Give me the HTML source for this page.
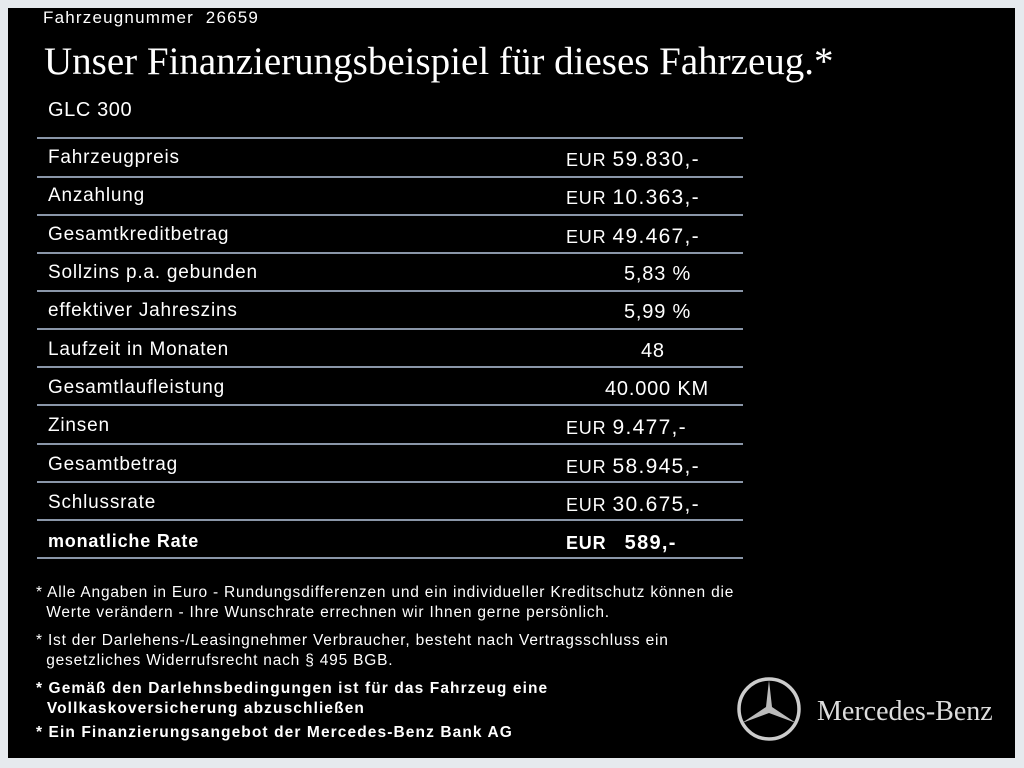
<!DOCTYPE html>
<html><head><meta charset="utf-8"><style>
body{margin:0;width:1024px;height:768px;background:#e6eaee;position:relative;overflow:hidden;font-family:"Liberation Sans",sans-serif;color:#fff}
#box{position:absolute;left:8px;top:8px;width:1007px;height:750px;background:#000}
.t{position:absolute;white-space:nowrap}
.l{position:absolute;left:37px;width:706px;height:2px;background:#8a96a8}
.r{font-size:19px;letter-spacing:0.8px}
.n{letter-spacing:1.3px}
.f{font-size:15.5px;line-height:20px;letter-spacing:0.8px}
.b{font-weight:bold;letter-spacing:1.1px}
</style></head><body>
<div id="box"></div>
<div class="t" style="left:43px;top:8px;font-size:17px;letter-spacing:1.2px">Fahrzeugnummer&nbsp; 26659</div>
<div class="t" style="left:44px;top:39px;font-family:'Liberation Serif',serif;font-size:39px">Unser Finanzierungsbeispiel für dieses Fahrzeug.*</div>
<div class="t" style="left:48px;top:99px;font-size:20px;letter-spacing:0.6px">GLC 300</div>

<div class="l" style="top:137px"></div>
<div class="l" style="top:176px"></div>
<div class="l" style="top:214px"></div>
<div class="l" style="top:252px"></div>
<div class="l" style="top:290px"></div>
<div class="l" style="top:328px"></div>
<div class="l" style="top:366px"></div>
<div class="l" style="top:404px"></div>
<div class="l" style="top:443px"></div>
<div class="l" style="top:481px"></div>
<div class="l" style="top:519px"></div>
<div class="l" style="top:557px"></div>

<div class="t r" style="left:48px;top:147px">Fahrzeugpreis</div>
<div class="t r" style="left:48px;top:185px">Anzahlung</div>
<div class="t r" style="left:48px;top:224px">Gesamtkreditbetrag</div>
<div class="t r" style="left:48px;top:262px">Sollzins p.a. gebunden</div>
<div class="t r" style="left:48px;top:300px">effektiver Jahreszins</div>
<div class="t r" style="left:48px;top:339px">Laufzeit in Monaten</div>
<div class="t r" style="left:48px;top:377px">Gesamtlaufleistung</div>
<div class="t r" style="left:48px;top:415px">Zinsen</div>
<div class="t r" style="left:48px;top:454px">Gesamtbetrag</div>
<div class="t r" style="left:48px;top:492px">Schlussrate</div>
<div class="t r" style="left:48px;top:531px;font-weight:bold;font-size:18px">monatliche Rate</div>

<div class="t r" style="left:566px;top:148px"><span style="font-size:18px">EUR</span>&nbsp;<span class="n" style="font-size:21px">59.830,-</span></div>
<div class="t r" style="left:566px;top:186px"><span style="font-size:18px">EUR</span>&nbsp;<span class="n" style="font-size:21px">10.363,-</span></div>
<div class="t r" style="left:566px;top:225px"><span style="font-size:18px">EUR</span>&nbsp;<span class="n" style="font-size:21px">49.467,-</span></div>
<div class="t r" style="left:624px;top:263px;font-size:20px">5,83 %</div>
<div class="t r" style="left:624px;top:301px;font-size:20px">5,99 %</div>
<div class="t r" style="left:641px;top:340px;font-size:20px">48</div>
<div class="t r" style="left:605px;top:378px;font-size:20px">40.000 KM</div>
<div class="t r" style="left:566px;top:416px"><span style="font-size:18px">EUR</span>&nbsp;<span class="n" style="font-size:21px">9.477,-</span></div>
<div class="t r" style="left:566px;top:455px"><span style="font-size:18px">EUR</span>&nbsp;<span class="n" style="font-size:21px">58.945,-</span></div>
<div class="t r" style="left:566px;top:493px"><span style="font-size:18px">EUR</span>&nbsp;<span class="n" style="font-size:21px">30.675,-</span></div>
<div class="t r" style="left:566px;top:532px;font-weight:bold"><span style="font-size:18px">EUR</span>&nbsp;&nbsp;&nbsp;<span class="n" style="font-size:20px">589,-</span></div>

<div class="t f" style="left:36px;top:583px">* Alle Angaben in Euro - Rundungsdifferenzen und ein individueller Kreditschutz können die<br>&nbsp;&nbsp;Werte verändern - Ihre Wunschrate errechnen wir Ihnen gerne persönlich.</div>
<div class="t f" style="left:36px;top:631px">* Ist der Darlehens-/Leasingnehmer Verbraucher, besteht nach Vertragsschluss ein<br>&nbsp;&nbsp;gesetzliches Widerrufsrecht nach § 495 BGB.</div>
<div class="t f b" style="left:36px;top:679px">* Gemäß den Darlehnsbedingungen ist für das Fahrzeug eine<br>&nbsp;&nbsp;Vollkaskoversicherung abzuschließen</div>
<div class="t f b" style="left:36px;top:723px">* Ein Finanzierungsangebot der Mercedes-Benz Bank AG</div>

<svg style="position:absolute;left:735px;top:675px" width="68" height="68" viewBox="0 0 68 68">
<circle cx="34" cy="34" r="30" fill="none" stroke="#ccc" stroke-width="3.5"/>
<polygon points="34,5 37,32 61,48 34,38 7,48 31,32" fill="#bbb"/>
</svg>
<div class="t" style="left:817px;top:696px;font-family:'Liberation Serif',serif;font-size:28px;color:#ddd">Mercedes-Benz</div>
</body></html>
